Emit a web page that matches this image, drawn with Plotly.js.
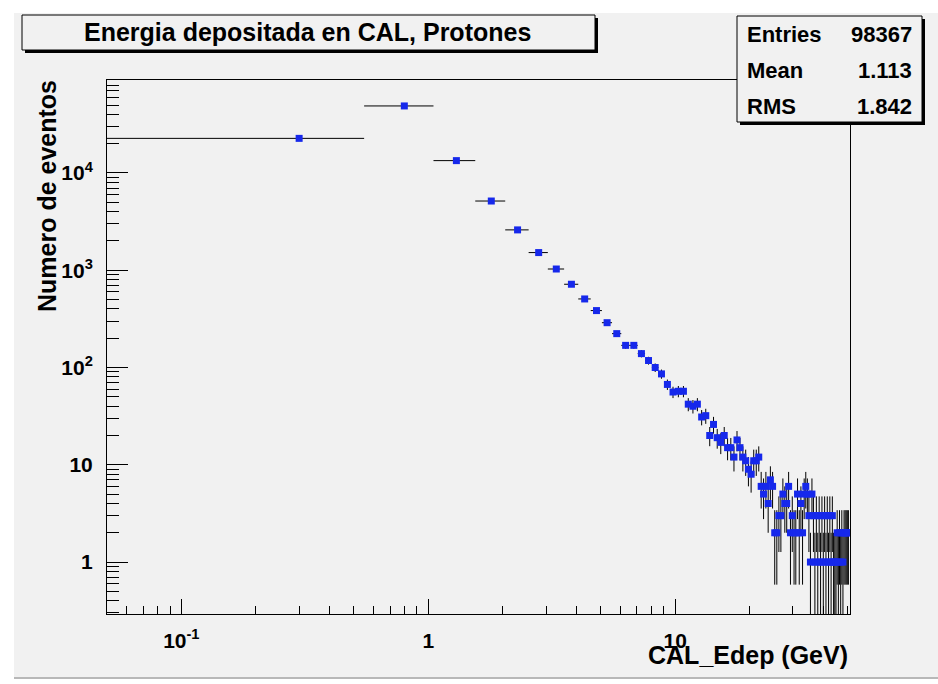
<!DOCTYPE html>
<html><head><meta charset="utf-8">
<script src="https://cdn.plot.ly/plotly-3.0.1.min.js"></script>
<style>html,body{margin:0;padding:0;background:#ffffff;} #chart{width:938px;height:684px;}</style>
</head><body><div id="chart"></div>
<script>
// ---- data ----
const binCenters = [0.3,0.8,1.3,1.8,2.3,2.8,3.3,3.8,4.3,4.8,5.3,5.8,6.3,6.8,7.3,7.8,8.3,8.8,9.3,9.8,
  10.3,10.8,11.3,11.8,12.3,12.8,13.3,13.8,14.3,14.8,15.3,15.8,16.3,16.8,17.3,17.8,18.3,18.8,19.3,19.8,
  20.3,20.8,21.3,21.8,22.3,22.8,23.3,23.8,24.3,24.8,25.3,25.8,26.3,26.8,27.3,27.8,28.3,28.8,29.3,29.8,
  30.3,30.8,31.3,31.8,32.3,32.8,33.3,33.8,34.3,34.8,35.3,35.8,36.3,36.8,37.3,37.8,38.3,38.8,39.3,39.8,
  40.3,40.8,41.3,41.8,42.3,42.8,43.3,43.8,44.3,44.8,45.3,45.8,46.3,46.8,47.3,47.8,48.3,48.8,49.3,49.8,50.3];
const counts = [22700,48900,13400,5150,2600,1520,1030,718,507,385,289,223,169,169,139,118,100,86,67,56,
  57,57,42,40,42,31,32,20,26,19,17,20,15,15,12,18,15,12,11,9,
  8,11,11,12,6,5,6,4,7,6,2,2,3,3,5,4,4,6,2,3,
  2,2,5,2,4,2,5,6,5,3,1,5,3,1,3,1,3,1,3,1,
  3,1,3,1,3,1,3,1,1,1,2,1,2,1,2,1,2,2,2,2,2];
const halfBinWidth = 0.25;
const statLabels = ['Entries','Mean','RMS'];
const statValues = ['98367','1.113','1.842'];
const chartTitle = 'Energia depositada en CAL, Protones';
const xTitle = 'CAL_Edep (GeV)';
const yTitle = 'Numero de eventos';
const xTickVals = [0.1,1,10];
const xTickText = ['10<sup>-1</sup>','1','10'];
const yTickVals = [1,10,100,1000,10000];
const yTickText = ['1','10','10<sup>2</sup>','10<sup>3</sup>','10<sup>4</sup>'];

// ---- layout helpers (pixel -> paper) ----
const L = 107, R = 850, T = 80, B = 614, W = 938, H = 684;
const PX = x => (x - L) / (R - L);
const PY = y => (B - y) / (B - T);
function minorTicks(decades){ const v=[]; decades.forEach(d=>{for(let k=2;k<=9;k++) v.push(k*d);}); return v; }
const xMinor = minorTicks([0.01,0.1,1,10]).filter(v=>v>0.05 && v<51);
const yMinor = minorTicks([0.1,1,10,100,1000,10000]).filter(v=>v>0.29 && v<90000);

const BG = '#f1f1f1';
const FONT = 'Liberation Sans, Arial, Helvetica, sans-serif';
const BLUE = 'rgb(22,40,235)';

const trace = {
  type:'scatter', mode:'markers', x: binCenters, y: counts,
  marker:{symbol:'square', size:7, color:BLUE, line:{width:0}},
  error_x:{type:'constant', value: halfBinWidth, color:'#000', thickness:1, width:0},
  error_y:{type:'data', array: counts.map(c=>Math.sqrt(c)), color:'#000', thickness:1, width:0},
  hoverinfo:'x+y', showlegend:false
};

function box(x0,y0,x1,y1){
  return [
    {type:'rect', xref:'paper', yref:'paper', x0:PX(x0+3), x1:PX(x1+3), y0:PY(y1+3), y1:PY(y0+3), fillcolor:'#000', line:{width:0}, layer:'above'},
    {type:'rect', xref:'paper', yref:'paper', x0:PX(x0), x1:PX(x1), y0:PY(y1), y1:PY(y0), fillcolor:BG, line:{color:'#000', width:1}, layer:'above'}
  ];
}

const shapes = [
  {type:'rect', xref:'paper', yref:'paper', x0:PX(14), x1:PX(W+2), y0:PY(678), y1:PY(13), fillcolor:BG, line:{width:0}, layer:'below'},
  {type:'line', xref:'paper', yref:'paper', x0:PX(14), x1:PX(W+2), y0:PY(678), y1:PY(678), line:{color:'#b8b8b8', width:2}, layer:'below'},
  ...box(22,15,595,50),
  ...box(737,16,922,122)
];

const annotations = [
  {text:'<b>'+chartTitle+'</b>', xref:'paper', yref:'paper', x:PX(307), y:PY(32), xanchor:'center', yanchor:'middle', showarrow:false, font:{family:FONT, size:25, color:'#000'}},
  {text:'<b>'+xTitle+'</b>', xref:'paper', yref:'paper', x:PX(850), y:PY(655), xanchor:'right', yanchor:'middle', showarrow:false, font:{family:FONT, size:25, color:'#000'}},
  {text:'<b>'+yTitle+'</b>', xref:'paper', yref:'paper', x:PX(47), y:PY(78), xanchor:'center', yanchor:'top', textangle:-90, showarrow:false, font:{family:FONT, size:25, color:'#000'}}
];
const rowY = [34, 70.5, 106];
statLabels.forEach((s,i)=>{
  annotations.push({text:'<b>'+s+'</b>', xref:'paper', yref:'paper', x:PX(745), y:PY(rowY[i]), xanchor:'left', yanchor:'middle', showarrow:false, font:{family:FONT, size:22, color:'#000'}});
  annotations.push({text:'<b>'+statValues[i]+'</b>', xref:'paper', yref:'paper', x:PX(914), y:PY(rowY[i]), xanchor:'right', yanchor:'middle', showarrow:false, font:{family:FONT, size:22, color:'#000'}});
});

const layout = {
  width:W, height:H,
  margin:{l:L, r:W-R, t:T, b:H-B, pad:0},
  paper_bgcolor:'#ffffff', plot_bgcolor:BG,
  xaxis:{type:'log', range:[Math.log10(0.05), 1.708], showgrid:false, zeroline:false,
    showline:true, linecolor:'#000', linewidth:1, mirror:true,
    ticks:'inside', ticklen:15, tickcolor:'#000', tickwidth:1,
    tickmode:'array', tickvals:xTickVals, ticktext:xTickText,
    tickfont:{family:FONT, size:21, color:'#000', weight:'bold'}, ticklabelstandoff:8,
    minor:{tickmode:'array', tickvals:xMinor, ticks:'inside', ticklen:8, tickcolor:'#000', tickwidth:1, showgrid:false}
  },
  yaxis:{type:'log', range:[-0.534, 4.956], showgrid:false, zeroline:false,
    showline:true, linecolor:'#000', linewidth:1, mirror:true,
    ticks:'inside', ticklen:21, tickcolor:'#000', tickwidth:1,
    tickmode:'array', tickvals:yTickVals, ticktext:yTickText,
    tickfont:{family:FONT, size:21, color:'#000', weight:'bold'}, ticklabelstandoff:9,
    minor:{tickmode:'array', tickvals:yMinor, ticks:'inside', ticklen:12, tickcolor:'#000', tickwidth:1, showgrid:false}
  },
  shapes:shapes, annotations:annotations, showlegend:false
};

Plotly.newPlot('chart', [trace], layout, {displayModeBar:false, staticPlot:true});
</script></body></html>
